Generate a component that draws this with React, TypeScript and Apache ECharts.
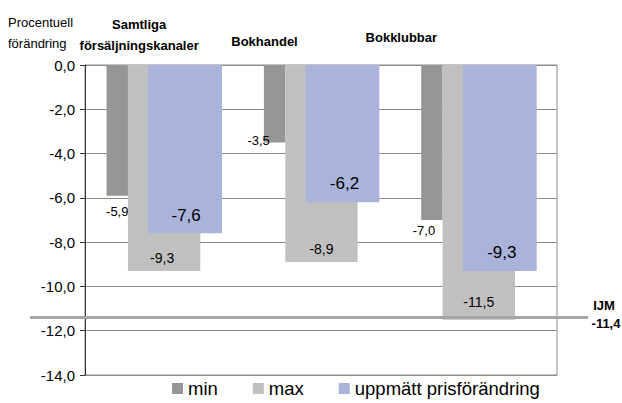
import React, { useEffect, useRef } from "react";
import * as echarts from "echarts";

const categories = ["Samtliga\nförsäljningskanaler", "Bokhandel", "Bokklubbar"];
const minValues = [-5.9, -3.5, -7.0];
const maxValues = [-9.3, -8.9, -11.5];
const measuredValues = [-7.6, -6.2, -9.3];
const ijmValue = -11.4;
const seriesNames = ["min", "max", "uppmätt prisförändring"];
const yAxisTitle = "Procentuell\nförändring";
const yMin = -14;
const yMax = 0;
const yStep = 2;

const FONT = "'Liberation Sans', Arial, sans-serif";
const fmt = (v: number) => v.toFixed(1).replace(".", ",");

// layout (fractions of category band) and label offsets
const slots: Record<string, [number, number]> = {
  min: [-0.363, -0.227],
  max: [-0.227, 0.233],
  blue: [-0.098, 0.371],
};
const minLabelOffsets = [[0, 16], [-16, -2], [-8, 10]];
const maxLabelOffsets = [[-2, -13], [0, -13], [0, -18]];
const blueLabelOffsets = [[1, -18], [2, -19], [2, -18]];
const headerPadding = [[0, 49, 0, 0], [0, 113, 4, 0], [0, 154, 8, 0]];

function barSeries(
  name: string,
  values: number[],
  color: string,
  slot: [number, number],
  fontSize: number,
  offsets: number[][]
) {
  return {
    type: "custom",
    name,
    clip: false,
    itemStyle: { color },
    encode: { x: 0, y: 1 },
    data: values.map((v, i) => [i, v]),
    renderItem: (params: any, api: any) => {
      const i = api.value(0);
      const v = api.value(1);
      const base = api.coord([i, 0]);
      const end = api.coord([i, v]);
      const band = api.size([1, 0])[0];
      const x0 = base[0] + band * slot[0];
      const w = band * (slot[1] - slot[0]);
      const top = Math.min(base[1], end[1]);
      const h = Math.abs(end[1] - base[1]);
      const [dx, dy] = offsets[params.dataIndex];
      return {
        type: "group",
        children: [
          { type: "rect", shape: { x: x0, y: top, width: w, height: h }, style: { fill: color } },
          {
            type: "text",
            x: x0 + w / 2 + dx,
            y: end[1] + dy,
            style: {
              text: fmt(v),
              fill: "#000",
              fontSize,
              fontFamily: FONT,
              align: "center",
              verticalAlign: "middle",
            },
          },
        ],
      };
    },
  };
}

export default function App() {
  const ref = useRef<HTMLDivElement>(null);
  useEffect(() => {
    if (!ref.current) return;
    const chart = echarts.init(ref.current, undefined, { renderer: "svg" });
    chart.setOption({
      animation: false,
      backgroundColor: "#fff",
      textStyle: { fontFamily: FONT },
      grid: {
        left: 85,
        right: 65,
        top: 65,
        bottom: 28,
        show: true,
        borderColor: "#8c8c8c",
        borderWidth: 1,
        outerBoundsMode: "none",
      },
      graphic: [
        {
          type: "text",
          left: 8,
          top: 12,
          style: { text: yAxisTitle, fontSize: 13, lineHeight: 21, fill: "#000", fontFamily: FONT },
        },
      ],
      legend: {
        data: seriesNames,
        top: 379,
        left: 172,
        padding: 0,
        icon: "rect",
        itemWidth: 11,
        itemHeight: 11,
        itemGap: 35,
        textStyle: { fontSize: 18.5, color: "#000", fontFamily: FONT },
      },
      xAxis: {
        type: "category",
        position: "top",
        data: categories.map((c, i) => ({ value: c, textStyle: { padding: headerPadding[i] } })),
        axisLine: { show: false },
        axisTick: { show: false },
        axisLabel: {
          interval: 0,
          fontSize: 13,
          fontWeight: "bold",
          color: "#000",
          lineHeight: 21,
          margin: 9,
          fontFamily: FONT,
        },
      },
      yAxis: {
        type: "value",
        min: yMin,
        max: yMax,
        interval: yStep,
        axisLine: { show: true, lineStyle: { color: "#333", width: 1 } },
        axisTick: { show: true, length: 5, lineStyle: { color: "#333" } },
        axisLabel: { formatter: (v: number) => fmt(v), fontSize: 15, color: "#000", margin: 10, fontFamily: FONT },
        splitLine: { show: true, lineStyle: { color: "#8c8c8c", width: 1 } },
      },
      series: [
        barSeries(seriesNames[0], minValues, "#969696", slots.min, 13, minLabelOffsets),
        barSeries(seriesNames[1], maxValues, "#c0c0c0", slots.max, 14, maxLabelOffsets),
        barSeries(seriesNames[2], measuredValues, "#aab4da", slots.blue, 17, blueLabelOffsets),
        {
          type: "custom",
          name: "IJM",
          clip: false,
          silent: true,
          encode: { x: 0, y: 1 },
          data: [[0, ijmValue]],
          renderItem: (_params: any, api: any) => {
            const v = api.value(1);
            const y = api.coord([0, v])[1];
            return {
              type: "group",
              children: [
                { type: "line", shape: { x1: 30, y1: y, x2: 588, y2: y }, style: { stroke: "#a6a6a6", lineWidth: 3 } },
                {
                  type: "text",
                  x: 604,
                  y: y - 12,
                  style: { text: "IJM", fill: "#000", fontSize: 13, fontWeight: "bold", fontFamily: FONT, align: "center", verticalAlign: "middle" },
                },
                {
                  type: "text",
                  x: 606,
                  y: y + 6,
                  style: { text: fmt(v), fill: "#000", fontSize: 13, fontWeight: "bold", fontFamily: FONT, align: "center", verticalAlign: "middle" },
                },
              ],
            };
          },
        },
      ],
    });
    return () => chart.dispose();
  }, []);
  return (
    <div
      ref={ref}
      style={{ position: "absolute", left: 0, top: 0, width: 622, height: 403, background: "#fff" }}
    />
  );
}
